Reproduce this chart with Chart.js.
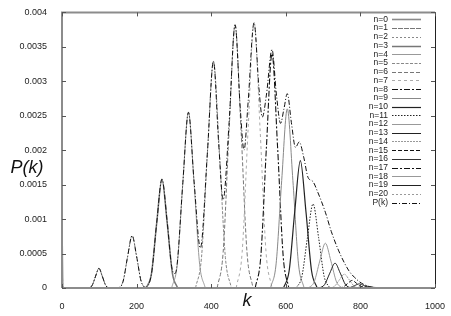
<!DOCTYPE html>
<html>
<head>
<meta charset="utf-8">
<script src="https://cdn.jsdelivr.net/npm/chart.js@4/dist/chart.umd.min.js"></script>
<style>
  body { margin: 0; background: #fff; }
  #grafica { display: block; }
</style>
</head>
<body>
<canvas id="grafica" width="451" height="316"></canvas>
<script>
// valores: pares [k, P]
const n0  = [[0, 0.0009], [2, 0]];
const n1  = [[72, 0], [81, 0.000039], [90, 0.000172], [99, 0.000286], [108, 0.000172], [117, 0.000039], [126, 0]];
const n2  = [[152, 0], [164, 0.000103], [176, 0.000456], [188, 0.00076], [200, 0.000456], [212, 0.000103], [224, 0]];
const n3  = [[226, 0], [240, 0.000213], [254, 0.000948], [268, 0.00158], [282, 0.000948], [296, 0.000213], [310, 0]];
const n4  = [[294, 0], [309, 0.000344], [324, 0.00153], [339, 0.00255], [354, 0.00153], [369, 0.000344], [384, 0]];
const n5  = [[358, 0], [374, 0.000444], [390, 0.00197], [406, 0.00329], [422, 0.00197], [438, 0.000444], [454, 0]];
const n6  = [[416, 0], [432, 0.000516], [448, 0.00229], [464, 0.00382], [480, 0.00229], [496, 0.000516], [512, 0]];
const n7  = [[467, 0], [483, 0.00052], [499, 0.00231], [515, 0.00385], [531, 0.00231], [547, 0.00052], [563, 0]];
const n8  = [[518, 0], [533, 0.00046], [548, 0.00204], [563, 0.0034], [578, 0.00204], [593, 0.00046], [608, 0]];
const n9  = [[559, 0], [574, 0.00035], [589, 0.00156], [604, 0.0026], [619, 0.00156], [634, 0.00035], [649, 0]];
const n10 = [[594, 0], [609, 0.00025], [624, 0.00111], [639, 0.00185], [654, 0.00111], [669, 0.00025], [684, 0]];
const n11 = [[628, 0], [643, 0.000165], [658, 0.00073], [673, 0.00122], [688, 0.00073], [703, 0.000165], [718, 0]];
const n12 = [[661, 0], [676, 0.000088], [691, 0.00039], [706, 0.00065], [721, 0.00039], [736, 0.000088], [751, 0]];
const n13 = [[690, 0], [704, 0.000049], [718, 0.000216], [732, 0.00036], [746, 0.000216], [760, 0.000049], [774, 0]];
const n14 = [[718, 0], [731, 0.000027], [744, 0.00012], [757, 0.0002], [770, 0.00012], [783, 0.000027], [796, 0]];
const n15 = [[742, 0], [754, 0.000015], [766, 0.000066], [778, 0.00011], [790, 0.000066], [802, 0.000015], [814, 0]];
const n16 = [[761, 0], [773, 0.000008], [785, 0.000036], [797, 0.00006], [809, 0.000036], [821, 0.000008], [833, 0]];
const n17 = [[780, 0], [791, 0.000004], [802, 0.000018], [813, 0.00003], [824, 0.000018], [835, 0.000004], [846, 0]];
const n18 = [[795, 0], [806, 0.000002], [817, 0.000009], [828, 0.000015], [839, 0.000009], [850, 0.000002], [861, 0]];
const n19 = [[812, 0], [822, 0.000001], [832, 0.000004], [842, 0.000007], [852, 0.000004], [862, 0.000001], [872, 0]];
const n20 = [[825, 0], [835, 0.0000005], [845, 0.000002], [855, 0.000003], [865, 0.000002], [875, 0.0000005], [885, 0]];
const pk  = [[0, 0.0009], [2, 0], [72, 0], [81, 0.00004], [90, 0.00017], [99, 0.000286], [108, 0.00017], [117, 0.00004], [126, 0],
  [152, 0], [164, 0.0001], [176, 0.00046], [188, 0.00076], [200, 0.00046], [212, 0.0001], [224, 0.00001],
  [240, 0.00021], [254, 0.00095], [268, 0.00158], [282, 0.00096], [294, 0.00031], [303, 0.00021], [309, 0.00036],
  [324, 0.00153], [339, 0.00255], [354, 0.00155], [371, 0.00058], [390, 0.00198], [406, 0.00329], [420, 0.0021],
  [432, 0.00128], [448, 0.0024], [464, 0.00382], [478, 0.0026], [488, 0.002], [499, 0.0027], [515, 0.00385],
  [528, 0.0029], [537, 0.00248], [548, 0.0028], [563, 0.00346], [575, 0.0028], [586, 0.00239], [595, 0.0026],
  [604, 0.00282], [615, 0.0024], [626, 0.00204], [636, 0.00212], [648, 0.0019], [660, 0.0016], [672, 0.00155],
  [685, 0.0014], [706, 0.0011], [722, 0.00082], [741, 0.00055], [768, 0.00026], [785, 0.00015], [803, 0.00007],
  [825, 0.00002], [848, 0]];

const series = [n0, n1, n2, n3, n4, n5, n6, n7, n8, n9, n10, n11, n12, n13, n14, n15, n16, n17, n18, n19, n20, pk];
const etiquetas = ["n=0", "n=1", "n=2", "n=3", "n=4", "n=5", "n=6", "n=7", "n=8", "n=9", "n=10",
  "n=11", "n=12", "n=13", "n=14", "n=15", "n=16", "n=17", "n=18", "n=19", "n=20", "P(k)"];
const ticksX = [0, 200, 400, 600, 800, 1000];
const ticksY = [0, 0.0005, 0.001, 0.0015, 0.002, 0.0025, 0.003, 0.0035, 0.004];

// estilos de linea (color, grosor, guiones)
const estilos = [
  ["#8a8a8a", 1.6, []], ["#777", 1, [5, 1]], ["#888", 1, [2, 2]], ["#777", 1.5, []],
  ["#999", 1, []], ["#888", 1, [3, 1.5]], ["#777", 1, [4, 2]], ["#aaa", 1, [3, 3]],
  ["#111", 1.1, [6, 2, 2, 2]], ["#888", 1, []], ["#222", 1.2, []], ["#222", 1, [1.5, 1.5]],
  ["#999", 1, []], ["#222", 1, []], ["#999", 1, [2, 1]], ["#111", 1, [4, 2]],
  ["#333", 1, []], ["#111", 1, [6, 2, 2, 2]], ["#999", 1, []], ["#222", 1, []],
  ["#999", 1, [2, 2]], ["#111", 1, [5, 2, 1, 2]]
];

const FUENTE = "'Liberation Sans', Arial, sans-serif";

const marco = {
  id: "marco",
  afterDatasetsDraw(chart) {
    const { ctx, chartArea: a, scales } = chart;
    ctx.save();
    // bordes
    ctx.setLineDash([]);
    ctx.strokeStyle = "#8c8c8c";
    ctx.lineWidth = 2;
    ctx.beginPath();
    ctx.moveTo(a.left, a.bottom); ctx.lineTo(a.left, a.top); ctx.lineTo(a.right, a.top);
    ctx.moveTo(a.left, a.bottom); ctx.lineTo(a.right, a.bottom);
    ctx.stroke();
    ctx.strokeStyle = "#222";
    ctx.lineWidth = 1;
    ctx.beginPath();
    ctx.moveTo(a.right + 0.5, a.top); ctx.lineTo(a.right + 0.5, a.bottom);
    ctx.stroke();
    // marcas hacia dentro
    ctx.strokeStyle = "#555";
    ctx.beginPath();
    ticksX.forEach(v => {
      const x = Math.round(scales.x.getPixelForValue(v)) + 0.5;
      ctx.moveTo(x, a.bottom); ctx.lineTo(x, a.bottom - 4);
      ctx.moveTo(x, a.top); ctx.lineTo(x, a.top + 4);
    });
    ticksY.forEach(v => {
      const y = Math.round(scales.y.getPixelForValue(v)) + 0.5;
      ctx.moveTo(a.left, y); ctx.lineTo(a.left + 4, y);
      ctx.moveTo(a.right, y); ctx.lineTo(a.right - 4, y);
    });
    ctx.stroke();

    // leyenda
    ctx.font = "8.5px " + FUENTE;
    ctx.textAlign = "right";
    ctx.textBaseline = "middle";
    chart.data.datasets.forEach((ds, i) => {
      const y = a.top + 7 + i * 8.72;
      ctx.fillStyle = "#222";
      ctx.fillText(ds.label, 388, y);
      ctx.strokeStyle = ds.borderColor;
      ctx.lineWidth = ds.borderWidth;
      ctx.setLineDash(ds.borderDash);
      ctx.beginPath();
      ctx.moveTo(392, Math.round(y) + 0.5);
      ctx.lineTo(421, Math.round(y) + 0.5);
      ctx.stroke();
    });
    ctx.setLineDash([]);

    // titulos de ejes
    ctx.fillStyle = "#111";
    ctx.font = "italic 18px " + FUENTE;
    ctx.textAlign = "center";
    ctx.fillText("P(k)", 27, 168);
    ctx.fillText("k", 247, 301);
    ctx.restore();
  }
};

function crearGrafica() {
  const ctx = document.getElementById("grafica");

  const datasets = series.map((s, i) => ({
    label: etiquetas[i],
    data: s.map(p => ({ x: p[0], y: p[1] })),
    borderColor: estilos[i][0],
    borderWidth: estilos[i][1],
    borderDash: estilos[i][2],
    pointRadius: 0,
    fill: false,
    cubicInterpolationMode: "monotone",
    order: series.length - 1 - i
  }));

  new Chart(ctx, {
    type: "line",
    data: { datasets },
    options: {
      responsive: false,
      animation: false,
      devicePixelRatio: 1,
      layout: { padding: { top: 12, right: 16, left: 0, bottom: 0 } },
      plugins: { legend: { display: false }, tooltip: { enabled: false } },
      scales: {
        x: {
          type: "linear",
          min: 0,
          max: 1000,
          afterBuildTicks: s => { s.ticks = ticksX.map(v => ({ value: v })); },
          afterFit: s => { s.height = 28; },
          grid: { display: false },
          border: { display: false },
          ticks: {
            color: "#222",
            font: { size: 9, family: FUENTE },
            padding: 5,
            maxRotation: 0,
            callback: v => String(v)
          }
        },
        y: {
          min: 0,
          max: 0.004,
          afterBuildTicks: s => { s.ticks = ticksY.map(v => ({ value: v })); },
          afterFit: s => { s.width = 62; },
          grid: { display: false },
          border: { display: false },
          ticks: {
            color: "#222",
            font: { size: 9, family: FUENTE },
            padding: 7,
            callback: v => String(Number(v.toFixed(4)))
          }
        }
      }
    },
    plugins: [marco]
  });
}

document.addEventListener("DOMContentLoaded", () => {
  crearGrafica();
});
</script>
</body>
</html>
